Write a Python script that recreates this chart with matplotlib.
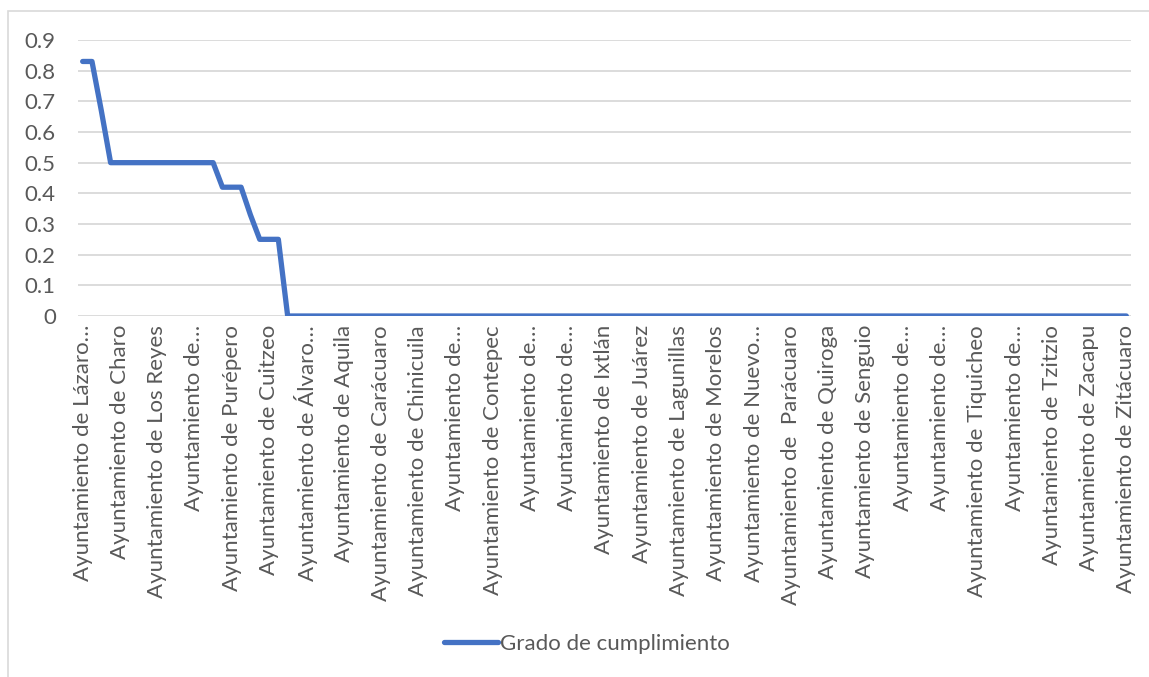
import matplotlib
matplotlib.use("Agg")
import matplotlib.pyplot as plt
from matplotlib.patches import Rectangle
import numpy as np

plt.rcParams['font.family'] = ['Lato', 'DejaVu Sans']

# 113 categories (every 4th labelled in the reference)
grado = ([0.83, 0.83, 0.67] + [0.5] * 12 + [0.42, 0.42, 0.42, 0.33,
          0.25, 0.25, 0.25] + [0.0] * 91)

tick_labels = [
    "Ayuntamiento de Lázaro…", "Ayuntamiento de Charo", "Ayuntamiento de Los Reyes",
    "Ayuntamiento de…", "Ayuntamiento de Purépero", "Ayuntamiento de Cuitzeo",
    "Ayuntamiento de Álvaro…", "Ayuntamiento de Aquila", "Ayuntamiento de Carácuaro",
    "Ayuntamiento de Chinicuila", "Ayuntamiento de…", "Ayuntamiento de Contepec",
    "Ayuntamiento de…", "Ayuntamiento de…", "Ayuntamiento de Ixtlán",
    "Ayuntamiento de Juárez", "Ayuntamiento de Lagunillas", "Ayuntamiento de Morelos",
    "Ayuntamiento de Nuevo…", "Ayuntamiento de  Parácuaro", "Ayuntamiento de Quiroga",
    "Ayuntamiento de Senguio", "Ayuntamiento de…", "Ayuntamiento de…",
    "Ayuntamiento de Tiquicheo", "Ayuntamiento de…", "Ayuntamiento de Tzitzio",
    "Ayuntamiento de Zacapu", "Ayuntamiento de Zitácuaro",
]
label_step = 4
y_ticks = [0, 0.1, 0.2, 0.3, 0.4, 0.5, 0.6, 0.7, 0.8, 0.9]
series_name = "Grado de cumplimiento"

W, H = 1149, 677
fig = plt.figure(figsize=(W / 100, H / 100), dpi=100)
ax = fig.add_axes([78 / W, 1 - 316 / H, (1131 - 78) / W, (316 - 40) / H])

x = np.arange(len(grado))
line, = ax.plot(x, grado, color='#4472C4', lw=3.8, solid_capstyle='round',
                solid_joinstyle='round', label=series_name, zorder=3)

ax.set_xlim(-0.5, len(grado) - 0.5)
ax.set_ylim(0, 0.9)
ax.set_yticks(y_ticks)
ax.set_yticklabels([f"{v:g}" for v in y_ticks])
ax.set_xticks(x[::label_step])
ax.set_xticklabels(tick_labels, rotation=90, ha='center', va='top')

grey = '#595959'
ax.tick_params(axis='y', length=0, pad=16, labelsize=16, labelcolor=grey)
ax.tick_params(axis='x', length=0, pad=6.5, labelsize=16, labelcolor=grey)
for s in ax.spines.values():
    s.set_visible(False)
ax.grid(axis='y', color='#D9D9D9', lw=1.3, zorder=0)
ax.set_axisbelow(True)

fig.legend(handles=[line], labels=[series_name], loc='center',
           bbox_to_anchor=(587 / W, 1 - 644 / H), frameon=False,
           fontsize=16, labelcolor=grey, handlelength=2.4, handletextpad=0.1)

fig.add_artist(Rectangle((8 / W, -0.1), 1.2, (H - 11) / H + 0.1,
                         transform=fig.transFigure, fill=False,
                         edgecolor='#D9D9D9', lw=1.2))

fig.savefig("out.png", dpi=100)
